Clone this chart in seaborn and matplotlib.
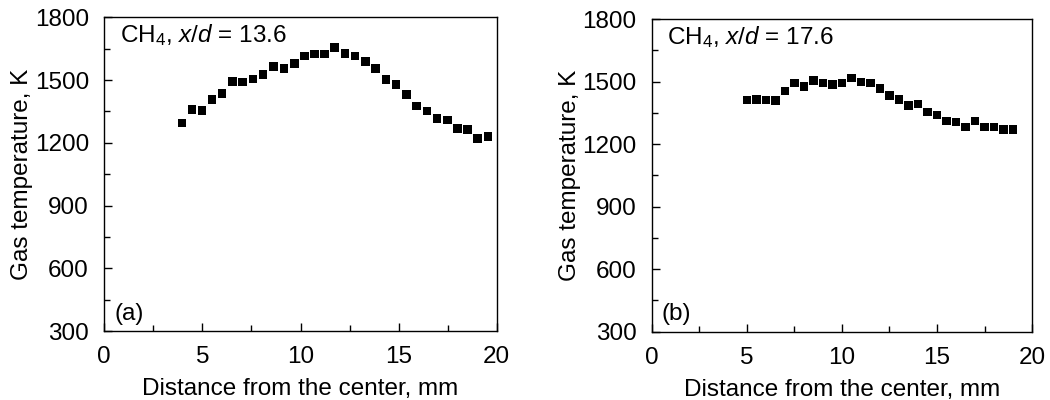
import numpy as np
import pandas as pd
import matplotlib
matplotlib.use("Agg")
import matplotlib.pyplot as plt
from matplotlib.ticker import MultipleLocator
import seaborn as sns

# Panel (a): CH4, x/d = 13.6
dist_a = [3.95, 4.47, 4.99, 5.50, 6.01, 6.53, 7.05, 7.58, 8.09, 8.62, 9.15,
          9.68, 10.19, 10.70, 11.21, 11.74, 12.26, 12.77, 13.31, 13.83, 14.36,
          14.87, 15.40, 15.91, 16.44, 16.95, 17.48, 17.99, 18.52, 19.03, 19.56]
temp_a = [1295, 1360, 1354, 1408, 1437, 1494, 1491, 1505, 1526, 1566, 1555,
          1580, 1615, 1625, 1625, 1655, 1626, 1615, 1590, 1556, 1504,
          1480, 1431, 1375, 1352, 1317, 1308, 1268, 1263, 1220, 1231]

# Panel (b): CH4, x/d = 17.6
dist_b = [5.0, 5.5, 6.0, 6.5, 7.0, 7.5, 8.0, 8.5, 9.0, 9.5, 10.0, 10.5, 11.0,
          11.5, 12.0, 12.5, 13.0, 13.5, 14.0, 14.5, 15.0, 15.5, 16.0, 16.5,
          17.0, 17.5, 18.0, 18.5, 19.0]
temp_b = [1412, 1413, 1412, 1410, 1455, 1493, 1477, 1504, 1493, 1487, 1493,
          1517, 1498, 1493, 1467, 1434, 1415, 1386, 1392, 1353, 1340, 1310,
          1306, 1282, 1311, 1282, 1282, 1270, 1270]

panel_titles = ["13.6", "17.6"]
panel_tags = ["(a)", "(b)"]
x_label = "Distance from the center, mm"
y_label = "Gas temperature, K"

sns.set_theme(style="ticks")
plt.rcParams['font.family'] = ['Liberation Sans', 'DejaVu Sans']
plt.rcParams['mathtext.fontset'] = 'custom'
plt.rcParams['mathtext.rm'] = 'Liberation Sans'
plt.rcParams['mathtext.it'] = 'Liberation Sans:italic'

fig = plt.figure(figsize=(10.5, 4.0), dpi=100)
ax_a = fig.add_axes([0.0993, 0.1725, 0.3738, 0.7842])
ax_b = fig.add_axes([0.6207, 0.1708, 0.3623, 0.7817])

fs = 17.5
for ax, xs, ys, val, tag in [(ax_a, dist_a, temp_a, panel_titles[0], panel_tags[0]),
                             (ax_b, dist_b, temp_b, panel_titles[1], panel_tags[1])]:
    df = pd.DataFrame({"x": xs, "y": ys})
    sns.scatterplot(data=df, x="x", y="y", ax=ax, marker="s", s=38,
                    color="black", edgecolor="none", linewidth=0)
    ax.set_xlim(0, 20)
    ax.set_ylim(300, 1800)
    ax.xaxis.set_major_locator(MultipleLocator(5))
    ax.xaxis.set_minor_locator(MultipleLocator(2.5))
    ax.yaxis.set_major_locator(MultipleLocator(300))
    ax.yaxis.set_minor_locator(MultipleLocator(150))
    ax.tick_params(which="both", top=False, right=False)
    ax.tick_params(which="major", direction="in", length=6, width=1,
                   labelsize=fs, color="black", labelcolor="black", pad=11)
    ax.tick_params(which="minor", direction="in", length=4, width=1, color="black")
    for sp in ax.spines.values():
        sp.set_visible(True)
        sp.set_color("black")
        sp.set_linewidth(1.0)
    ax.set_xlabel(x_label, fontsize=fs, color="black", labelpad=7)
    ax.set_ylabel(y_label, fontsize=fs, color="black", labelpad=1)
    ax.text(0.04, 0.985, r"CH$_4$, $x$/$d$ = " + val, transform=ax.transAxes,
            fontsize=fs, ha="left", va="top", color="black")
    ax.text(0.025, 0.02, tag, transform=ax.transAxes, fontsize=fs,
            ha="left", va="bottom", color="black")

fig.savefig("out.png", dpi=100, facecolor="white")
